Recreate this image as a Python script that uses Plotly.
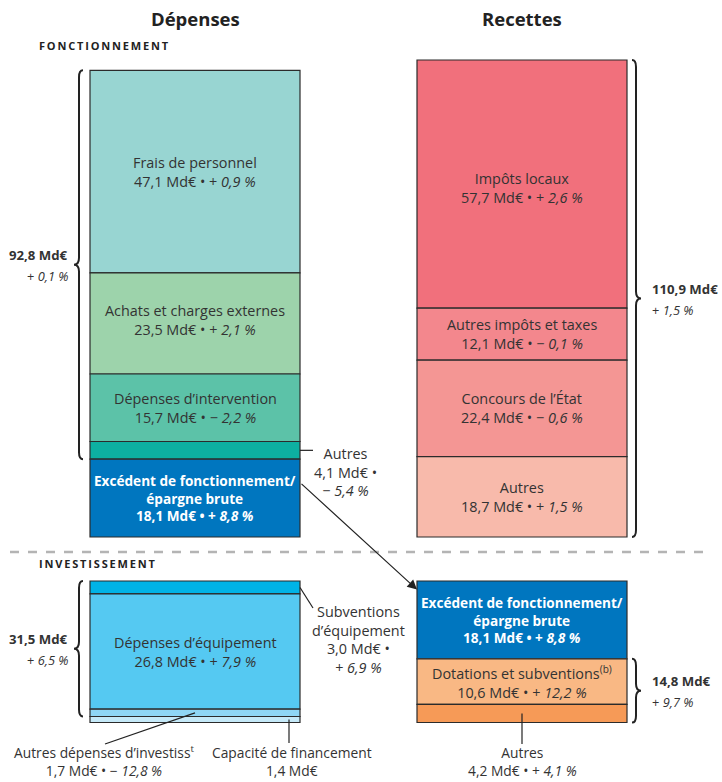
import plotly.graph_objects as go
import numpy as np

# ---------------- data (Md€, variation in %) ----------------
dep_fonct_labels = ["Frais de personnel", "Achats et charges externes",
                    "Dépenses d’intervention", "Autres",
                    "Excédent de fonctionnement/<br>épargne brute"]
dep_fonct_values = [47.1, 23.5, 15.7, 4.1, 18.1]
dep_fonct_var = [0.9, 2.1, -2.2, -5.4, 8.8]
dep_fonct_colors = ["#98D5D2", "#9DD3AB", "#5CC2A8", "#0DB0A1", "#0076BF"]

rec_fonct_labels = ["Impôts locaux", "Autres impôts et taxes",
                    "Concours de l’État", "Autres"]
rec_fonct_values = [57.7, 12.1, 22.4, 18.7]
rec_fonct_var = [2.6, -0.1, -0.6, 1.5]
rec_fonct_colors = ["#F1707C", "#F3878D", "#F49694", "#F8BAAB"]

dep_inv_labels = ["Subventions<br>d’équipement", "Dépenses d’équipement",
                  "Autres dépenses d’investiss<sup>t</sup>", "Capacité de financement"]
dep_inv_values = [3.0, 26.8, 1.7, 1.4]
dep_inv_var = [6.9, 7.9, -12.8, None]
dep_inv_colors = ["#00B3E6", "#55C9F2", "#8FD6F5", "#C5E9F8"]

rec_inv_labels = ["Excédent de fonctionnement/<br>épargne brute",
                  "Dotations et subventions<sup>(b)</sup>", "Autres"]
rec_inv_values = [18.1, 10.6, 4.2]
rec_inv_var = [8.8, 12.2, 4.1]
rec_inv_colors = ["#0076BF", "#F9B884", "#F69A57"]

totals_labels = ["92,8 Md€", "110,9 Md€", "31,5 Md€", "14,8 Md€"]
totals_values = [92.8, 110.9, 31.5, 14.8]
totals_var = [0.1, 1.5, 6.5, 9.7]

column_titles = ["Dépenses", "Recettes"]
section_titles = ["FONCTIONNEMENT", "INVESTISSEMENT"]

# ---------------- layout frame ----------------
W, H = 722, 782
ZERO_PX = 537.0                           # pixel row of the operating section baseline
UNIT_PX = 477.0 / sum(rec_fonct_values)   # pixels per Md€


def py(p):
    """pixel row -> y value"""
    return (ZERO_PX - p) / UNIT_PX


Y_RANGE = [py(H), py(0)]
X_LEFT, X_RIGHT, BAR_W = 195, 522, 210
INV_TOP = py(581)                         # top of investment section
FONT = "Open Sans"
TXT = "#333333"
OUTLINE = "#2B2B2B"
BODY = 14.4
FOOT = 13.8


def fmt_val(v):
    return f"{v:.1f}".replace(".", ",") + " Md€"


def fmt_var(v):
    sign = "+" if v >= 0 else "−"
    return f"{sign} <i>{abs(v):.1f}".replace(".", ",") + " %</i>"


fig = go.Figure()


def add_stack(values, colors, xc, top):
    bases = top - np.cumsum(np.array(values, dtype=float))
    fig.add_trace(go.Bar(
        x=[xc] * len(values), y=values, base=bases, width=[BAR_W] * len(values),
        marker=dict(color=colors, line=dict(color=OUTLINE, width=1.2)),
        hoverinfo="skip", showlegend=False))
    return bases


# operating section: both columns rest on the same baseline
top_df = sum(dep_fonct_values)
top_rf = sum(rec_fonct_values)
b_df = add_stack(dep_fonct_values, dep_fonct_colors, X_LEFT, top_df)
b_rf = add_stack(rec_fonct_values, rec_fonct_colors, X_RIGHT, top_rf)
# investment section: both columns hang from the same top line
b_di = add_stack(dep_inv_values, dep_inv_colors, X_LEFT, INV_TOP)
b_ri = add_stack(rec_inv_values, rec_inv_colors, X_RIGHT, INV_TOP)

ann = []


def label(x, y, text, size=BODY, color=TXT, xanchor="center", bold=False, yshift=0):
    if bold:
        text = f"<b>{text}</b>"
    ann.append(dict(x=x, y=y, xref="x", yref="y", text=text, showarrow=False,
                    xanchor=xanchor, yanchor="middle",
                    align=xanchor if xanchor != "center" else "center",
                    font=dict(family=FONT, size=size, color=color), yshift=yshift))


def inside(xc, bases, values, labels, variations, idx, white=False, yshift=0):
    mid = bases[idx] + values[idx] / 2
    txt = f"{labels[idx]}<br>{fmt_val(values[idx])} • {fmt_var(variations[idx])}"
    if white:
        label(xc, mid, txt, size=13.6, color="white", bold=True, yshift=yshift)
    else:
        label(xc, mid, txt, yshift=yshift)


inside(X_LEFT, b_df, dep_fonct_values, dep_fonct_labels, dep_fonct_var, 0)
inside(X_LEFT, b_df, dep_fonct_values, dep_fonct_labels, dep_fonct_var, 1, yshift=3)
inside(X_LEFT, b_df, dep_fonct_values, dep_fonct_labels, dep_fonct_var, 2)
inside(X_LEFT, b_df, dep_fonct_values, dep_fonct_labels, dep_fonct_var, 4, white=True)
inside(X_RIGHT, b_rf, rec_fonct_values, rec_fonct_labels, rec_fonct_var, 0, yshift=-4)
for i in range(1, 4):
    inside(X_RIGHT, b_rf, rec_fonct_values, rec_fonct_labels, rec_fonct_var, i)
inside(X_LEFT, b_di, dep_inv_values, dep_inv_labels, dep_inv_var, 1)
inside(X_RIGHT, b_ri, rec_inv_values, rec_inv_labels, rec_inv_var, 0, white=True)
inside(X_RIGHT, b_ri, rec_inv_values, rec_inv_labels, rec_inv_var, 1)

# outside labels with leader lines
shapes = []


def seg(x0, y0, x1, y1, color="#222222", width=1.2, dash=None):
    line = dict(color=color, width=width)
    if dash:
        line["dash"] = dash
    shapes.append(dict(type="line", xref="x", yref="y", x0=x0, y0=y0, x1=x1, y1=y1, line=line))


bar_r = X_LEFT + BAR_W / 2
# Autres (operating expenses)
ym = b_df[3] + dep_fonct_values[3] / 2
seg(bar_r, ym, bar_r + 13, ym)
label(345, py(472), f"{dep_fonct_labels[3]}<br>{fmt_val(dep_fonct_values[3])} •<br>{fmt_var(dep_fonct_var[3])}")

# Subventions d'équipement
ym = b_di[0] + dep_inv_values[0] / 2
seg(bar_r, ym, bar_r + 13, py(608))
label(358, py(639), f"{dep_inv_labels[0]}<br>{fmt_val(dep_inv_values[0])} •<br>{fmt_var(dep_inv_var[0])}")

# Autres dépenses d'investissement
ym = b_di[2] + dep_inv_values[2] / 2
seg(X_LEFT, ym, 105, py(744))
label(104, py(761), f"{dep_inv_labels[2]}<br>{fmt_val(dep_inv_values[2])} • {fmt_var(dep_inv_var[2])}",
      size=FOOT)

# Capacité de financement
ym = b_di[3] + dep_inv_values[3] / 2
seg(289, ym, 289, py(743))
label(292, py(761), f"{dep_inv_labels[3]}<br>{fmt_val(dep_inv_values[3])}", size=FOOT)

# Autres (investment receipts)
ym = b_ri[2] + rec_inv_values[2] / 2
seg(X_RIGHT, ym, X_RIGHT, py(744))
label(X_RIGHT, py(761), f"{rec_inv_labels[2]}<br>{fmt_val(rec_inv_values[2])} • {fmt_var(rec_inv_var[2])}",
      size=FOOT)


# curly braces grouping the blocks
def brace(x, ytop, ybot, side):
    d = 1.6
    ymid = (ytop + ybot) / 2
    xe = x - side * 4
    xt = x + side * 5
    path = (f"M {xe},{ytop} Q {x},{ytop} {x},{ytop - d} L {x},{ymid + d} "
            f"Q {x},{ymid} {xt},{ymid} Q {x},{ymid} {x},{ymid - d} "
            f"L {x},{ybot + d} Q {x},{ybot} {xe},{ybot}")
    shapes.append(dict(type="path", xref="x", yref="y", path=path,
                       line=dict(color="#222222", width=2)))
    return ymid


def brace_label(x, ymid, i, anchor):
    label(x, ymid, totals_labels[i], size=13.2, xanchor=anchor, bold=True, yshift=10)
    label(x, ymid, fmt_var(totals_var[i]), size=12.8, xanchor=anchor, yshift=-11)


m = brace(79, top_df, b_df[3], -1)
brace_label(70, m, 0, "right")
m = brace(636, top_rf, top_rf - totals_values[1], 1)
brace_label(650, m, 1, "left")
m = brace(79, INV_TOP, b_di[2], -1)
brace_label(70, m, 2, "right")
m = brace(636, b_ri[0], b_ri[0] - totals_values[3], 1)
brace_label(650, m, 3, "left")

# section separator
seg(10, py(552), 712, py(552), color="#B4B4B4", width=2.5, dash="dash")

# headings
label(X_LEFT, py(18), column_titles[0], size=18.5, color="#222222", bold=True)
label(X_RIGHT, py(18), column_titles[1], size=18.5, color="#222222", bold=True)
for t, p in zip(section_titles, [45, 563]):
    label(37, py(p), "\u2009".join(t), size=11, color="#222222", xanchor="left", bold=True)

# transfer arrow: operating surplus -> investment receipts
ann.append(dict(x=X_RIGHT - BAR_W / 2, y=b_ri[0] + rec_inv_values[0] - 2.0,
                ax=bar_r, ay=b_df[4] + rec_inv_values[0] * 0.7,
                xref="x", yref="y", axref="x", ayref="y", text="",
                showarrow=True, arrowhead=2, arrowsize=1.6, arrowwidth=1.2,
                arrowcolor="#222222", standoff=0))

fig.update_layout(
    width=W, height=H, autosize=False,
    margin=dict(l=0, r=0, t=0, b=0),
    paper_bgcolor="white", plot_bgcolor="white",
    barmode="overlay", showlegend=False,
    xaxis=dict(range=[0, W], visible=False, fixedrange=True),
    yaxis=dict(range=Y_RANGE, visible=False, fixedrange=True),
    annotations=ann, shapes=shapes,
    font=dict(family=FONT, color=TXT),
)

fig.write_html("out.html")
